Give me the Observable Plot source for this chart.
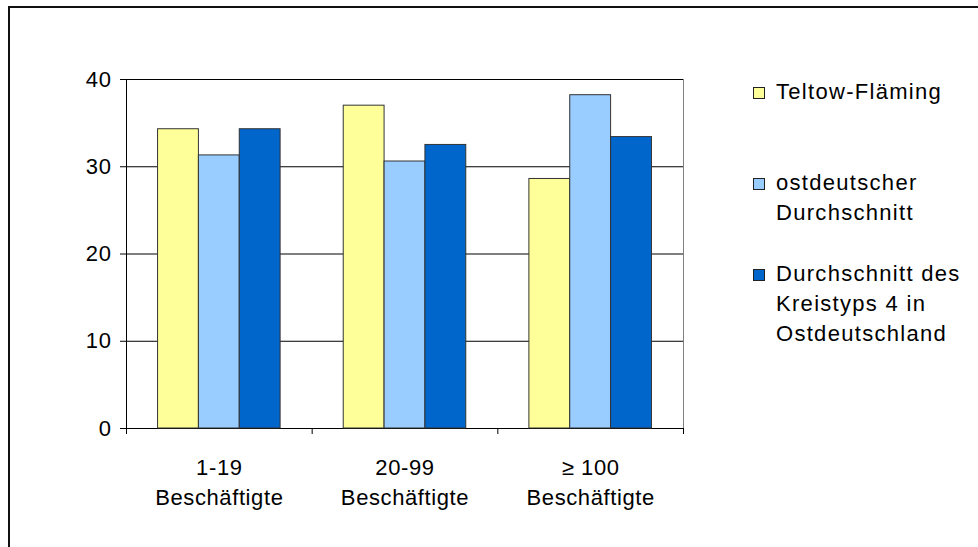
<!DOCTYPE html>
<html>
<head>
<meta charset="utf-8">
<script src="https://cdn.jsdelivr.net/npm/d3@7"></script>
<script src="https://cdn.jsdelivr.net/npm/@observablehq/plot@0.6"></script>
<style>
  html, body { margin: 0; padding: 0; background: #fff; }
  #wrap { position: relative; width: 978px; height: 547px; overflow: hidden; font-family: "Liberation Sans", Arial, sans-serif; }
  #frame { position: absolute; left: 8px; top: 6px; width: 1000px; height: 600px; border-left: 2px solid #111; border-top: 2px solid #111; }
  #chart { position: absolute; left: 0; top: 0; }
  #chart svg text { letter-spacing: 0.6px; }
  #legend { position: absolute; left: 753px; top: 0; }
  .item { position: absolute; left: 0; width: 225px; font-size: 22px; line-height: 30px; color: #000; letter-spacing: 1.3px; }
  .sw { position: absolute; left: 0; top: 10px; width: 10px; height: 10px; border: 1px solid #222; }
  .lab { position: absolute; left: 23px; top: 0; white-space: nowrap; }
</style>
</head>
<body>
<div id="wrap">
  <div id="frame"></div>
  <div id="chart"></div>
  <div id="legend"></div>
</div>
<script>
const categories = ["1-19\nBeschäftigte", "20-99\nBeschäftigte", "≥ 100\nBeschäftigte"];
const seriesNames = ["Teltow-Fläming", "ostdeutscher\nDurchschnitt", "Durchschnitt des\nKreistyps 4 in\nOstdeutschland"];
const seriesColors = ["#FFFF99", "#99CCFF", "#0066CC"];
const teltowFlaeming = [34.3, 37.0, 28.6];
const ostdeutsch = [31.3, 30.6, 38.2];
const kreistyp4 = [34.3, 32.5, 33.4];
const yTicks = [0, 10, 20, 30, 40];

const seriesValues = [teltowFlaeming, ostdeutsch, kreistyp4];
const barFrac = 0.22;
const groupPad = (1 - barFrac * seriesNames.length) / 2;
const rows = [];
categories.forEach((c, ci) => {
  seriesValues.forEach((vals, si) => {
    const x1 = ci + groupPad + si * barFrac;
    rows.push({cat: c, series: seriesNames[si], x1, x2: x1 + barFrac, value: vals[ci], color: seriesColors[si]});
  });
});
const centers = categories.map((c, i) => i + 0.5);
const bounds = d3.range(categories.length + 1);

const plot = Plot.plot({
  width: 978,
  height: 547,
  marginLeft: 126,
  marginRight: 295,
  marginTop: 79,
  marginBottom: 119,
  style: {fontFamily: "'Liberation Sans', Arial, sans-serif", fontSize: "22px", color: "#000", background: "transparent"},
  x: {domain: [0, categories.length], label: null},
  y: {domain: [0, 40], label: null},
  marks: [
    Plot.ruleY(yTicks, {stroke: "#000", strokeWidth: 1}),
    Plot.ruleX([categories.length], {stroke: "#808080", strokeWidth: 1}),
    Plot.rectY(rows, {x1: "x1", x2: "x2", y1: 0, y2: "value", fill: "color", stroke: "#333", strokeWidth: 1}),
    Plot.ruleX([0], {stroke: "#000", strokeWidth: 1}),
    Plot.axisY({ticks: yTicks, tickSize: 6, tickPadding: 9, tickFormat: d => d, fontSize: 22, label: null}),
    Plot.axisX({ticks: bounds, tickSize: 6, tickFormat: () => "", label: null}),
    Plot.axisX({ticks: centers, tickSize: 0, tickPadding: 25, lineHeight: 1.36, tickFormat: (d) => categories[Math.floor(d)], fontSize: 22, label: null})
  ]
});
document.getElementById("chart").appendChild(plot);

const legend = document.getElementById("legend");
const tops = [77, 168, 259];
seriesNames.forEach((name, i) => {
  const it = document.createElement("div");
  it.className = "item";
  it.style.top = tops[i] + "px";
  const sw = document.createElement("div");
  sw.className = "sw";
  sw.style.background = seriesColors[i];
  const lab = document.createElement("div");
  lab.className = "lab";
  lab.innerHTML = name.split("\n").join("<br>");
  it.appendChild(sw);
  it.appendChild(lab);
  legend.appendChild(it);
});
</script>
</body>
</html>
